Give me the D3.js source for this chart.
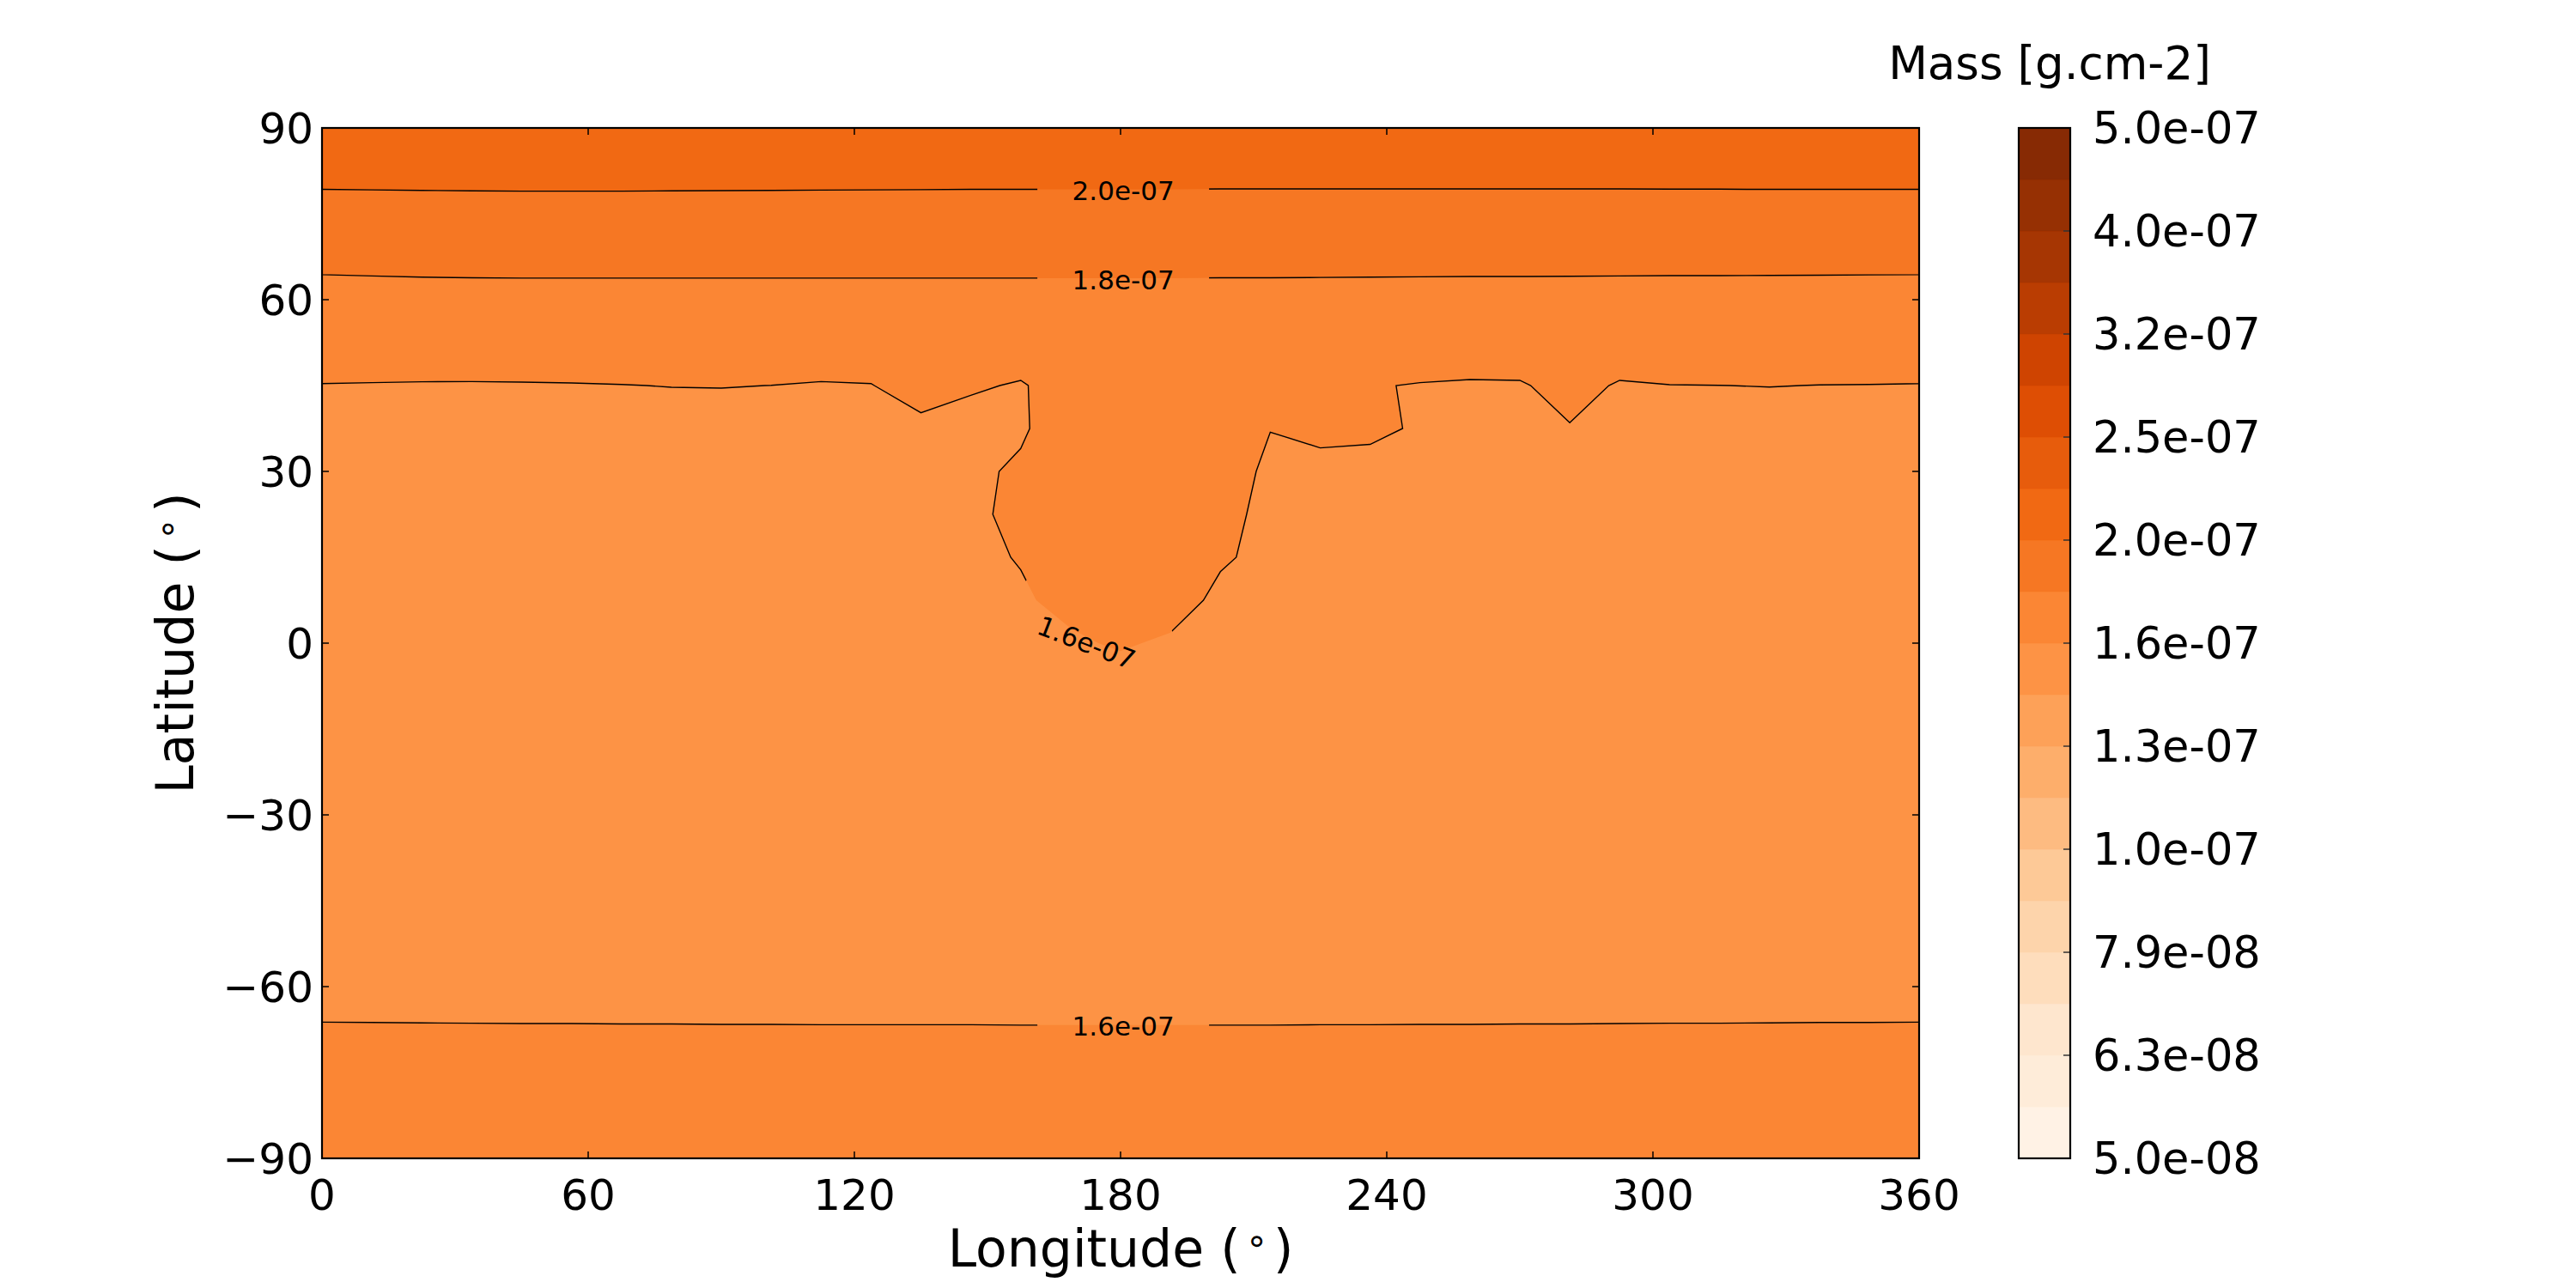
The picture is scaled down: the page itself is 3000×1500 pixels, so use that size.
<!DOCTYPE html>
<html>
<head>
<meta charset="utf-8">
<title>Mass [g.cm-2]</title>
<script src="https://cdn.jsdelivr.net/npm/d3@7"></script>
<style>
  body { margin: 0; background: #fff; }
  svg text { font-family: "DejaVu Sans", sans-serif; fill: #000; }
</style>
</head>
<body>
<div id="display"></div>
<script>
// model grid (values sit on these longitudes / latitudes)
const lons = [0, 11.25, 22.5, 33.75, 45, 56.25, 67.5, 78.75, 90, 101.25, 112.5, 123.75, 135, 146.25,
  157.5, 168.75, 180, 191.25, 202.5, 213.75, 225, 236.25, 247.5, 258.75, 270, 281.25, 292.5, 303.75,
  315, 326.25, 337.5, 348.75, 360];
const lats = [-90, -82.5, -75, -67.5, -60, -52.5, -45, -37.5, -30, -22.5, -15, -7.5, 0,
  7.5, 15, 22.5, 30, 37.5, 45, 52.5, 60, 67.5, 75, 82.5, 90];

// column mass in 1e-8 g.cm-2, one row per latitude (south -> north), one value per longitude
const mass = [
  /* -90.0 */ [16.70,16.70,16.70,16.70,16.70,16.70,16.70,16.70,16.70,16.70,16.70,16.70,16.70,16.70,16.70,16.70,16.70,16.70,16.70,16.70,16.70,16.70,16.70,16.70,16.70,16.70,16.70,16.70,16.70,16.70,16.70,16.70,16.70],
  /* -82.5 */ [16.55,16.55,16.55,16.55,16.55,16.55,16.55,16.55,16.55,16.55,16.55,16.55,16.55,16.55,16.55,16.55,16.55,16.55,16.55,16.55,16.55,16.55,16.55,16.55,16.55,16.55,16.55,16.55,16.55,16.55,16.55,16.55,16.55],
  /* -75.0 */ [16.30,16.30,16.30,16.30,16.30,16.30,16.30,16.30,16.30,16.30,16.30,16.30,16.30,16.30,16.30,16.30,16.30,16.30,16.30,16.30,16.30,16.30,16.30,16.30,16.30,16.30,16.30,16.30,16.30,16.30,16.30,16.30,16.30],
  /* -67.5 */ [15.99,15.98,15.97,15.96,15.95,15.95,15.94,15.94,15.93,15.93,15.92,15.92,15.92,15.92,15.91,15.91,15.91,15.91,15.91,15.91,15.92,15.92,15.93,15.93,15.94,15.94,15.95,15.96,15.96,15.97,15.98,15.98,15.99],
  /* -60.0 */ [14.95,14.95,14.95,14.95,14.95,14.95,14.95,14.95,14.95,14.95,14.95,14.95,14.95,14.95,14.95,14.95,14.95,14.95,14.95,14.95,14.95,14.95,14.95,14.95,14.95,14.95,14.95,14.95,14.95,14.95,14.95,14.95,14.95],
  /* -52.5 */ [15.05,15.05,15.05,15.05,15.05,15.05,15.05,15.05,15.05,15.05,15.05,15.05,15.05,15.05,15.05,15.05,15.05,15.05,15.05,15.05,15.05,15.05,15.05,15.05,15.05,15.05,15.05,15.05,15.05,15.05,15.05,15.05,15.05],
  /* -45.0 */ [15.10,15.10,15.10,15.10,15.10,15.10,15.10,15.10,15.10,15.10,15.10,15.10,15.10,15.10,15.10,15.10,15.10,15.10,15.10,15.10,15.10,15.10,15.10,15.10,15.10,15.10,15.10,15.10,15.10,15.10,15.10,15.10,15.10],
  /* -37.5 */ [15.12,15.12,15.12,15.12,15.12,15.12,15.12,15.12,15.12,15.12,15.12,15.12,15.12,15.12,15.12,15.12,15.12,15.12,15.12,15.12,15.12,15.12,15.12,15.12,15.12,15.12,15.12,15.12,15.12,15.12,15.12,15.12,15.12],
  /* -30.0 */ [15.15,15.15,15.15,15.15,15.15,15.15,15.15,15.15,15.15,15.15,15.15,15.15,15.15,15.15,15.15,15.15,15.15,15.15,15.15,15.15,15.15,15.15,15.15,15.15,15.15,15.15,15.15,15.15,15.15,15.15,15.15,15.15,15.15],
  /* -22.5 */ [15.18,15.18,15.18,15.18,15.18,15.18,15.18,15.18,15.18,15.18,15.18,15.18,15.18,15.18,15.18,15.18,15.18,15.18,15.18,15.18,15.18,15.18,15.18,15.18,15.18,15.18,15.18,15.18,15.18,15.18,15.18,15.18,15.18],
  /* -15.0 */ [15.20,15.20,15.20,15.20,15.20,15.20,15.20,15.20,15.20,15.20,15.20,15.20,15.20,15.20,15.20,15.20,15.20,15.20,15.20,15.20,15.20,15.20,15.20,15.20,15.20,15.20,15.20,15.20,15.20,15.20,15.20,15.20,15.20],
  /*  -7.5 */ [15.20,15.20,15.20,15.20,15.20,15.20,15.20,15.20,15.20,15.20,15.20,15.20,15.20,15.20,15.20,15.20,14.55,15.20,15.20,15.20,15.20,15.20,15.20,15.20,15.20,15.20,15.20,15.20,15.20,15.20,15.20,15.20,15.20],
  /*   0.0 */ [15.30,15.30,15.30,15.30,15.30,15.30,15.30,15.30,15.30,15.30,15.30,15.30,15.30,15.30,15.30,15.45,16.10,15.42,15.30,15.30,15.30,15.30,15.30,15.30,15.30,15.30,15.30,15.30,15.30,15.30,15.30,15.30,15.30],
  /*   7.5 */ [15.30,15.30,15.30,15.30,15.30,15.30,15.30,15.30,15.30,15.30,15.30,15.30,15.30,15.30,15.50,16.50,16.80,17.00,15.20,15.30,15.30,15.30,15.30,15.30,15.30,15.30,15.30,15.30,15.30,15.30,15.30,15.30,15.30],
  /*  15.0 */ [15.30,15.30,15.30,15.30,15.30,15.30,15.30,15.30,15.30,15.30,15.30,15.30,15.30,15.30,15.94,16.70,16.90,16.60,16.12,15.15,15.30,15.30,15.30,15.30,15.30,15.30,15.30,15.30,15.30,15.30,15.30,15.30,15.30],
  /*  22.5 */ [15.30,15.30,15.30,15.30,15.30,15.30,15.30,15.30,15.30,15.30,15.30,15.30,15.30,15.30,16.46,16.90,17.00,16.80,16.40,15.28,15.30,15.30,15.30,15.30,15.30,15.30,15.30,15.30,15.30,15.30,15.30,15.30,15.30],
  /*  30.0 */ [15.30,15.30,15.30,15.30,15.30,15.30,15.30,15.30,15.30,15.30,15.30,15.30,15.30,15.42,16.11,16.80,16.90,16.80,16.60,15.50,15.46,15.49,15.30,15.30,15.30,15.30,15.30,15.30,15.30,15.30,15.30,15.30,15.30],
  /*  37.5 */ [15.30,15.30,15.30,15.30,15.30,15.30,15.30,15.30,15.30,15.30,15.30,15.30,15.50,15.30,15.55,17.00,16.50,16.50,16.50,15.84,16.10,16.00,15.71,15.35,15.40,15.75,15.40,15.30,15.30,15.30,15.30,15.30,15.30],
  /*  45.0 */ [15.773,15.754,15.736,15.730,15.742,15.761,15.790,15.832,15.844,15.806,15.730,15.773,16.348,15.961,15.703,16.42,16.30,16.30,16.30,16.20,16.20,15.873,15.754,15.683,15.703,16.20,15.703,15.795,15.806,15.829,15.800,15.790,15.773],
  /*  52.5 */ [16.60,16.60,16.60,16.60,16.60,16.60,16.60,16.60,16.60,16.60,16.60,16.60,16.60,16.60,16.60,16.60,16.60,16.60,16.60,16.60,16.60,16.60,16.60,16.60,16.60,16.60,16.60,16.60,16.60,16.60,16.60,16.60,16.60],
  /*  60.0 */ [17.31,17.36,17.40,17.42,17.43,17.43,17.43,17.43,17.43,17.43,17.43,17.43,17.43,17.43,17.43,17.43,17.43,17.43,17.42,17.42,17.41,17.40,17.39,17.38,17.38,17.37,17.36,17.35,17.35,17.34,17.33,17.32,17.31],
  /*  67.5 */ [18.05,18.05,18.05,18.05,18.05,18.05,18.05,18.05,18.05,18.05,18.05,18.05,18.05,18.05,18.05,18.05,18.05,18.05,18.05,18.05,18.05,18.05,18.05,18.05,18.05,18.05,18.05,18.05,18.05,18.05,18.05,18.05,18.05],
  /*  75.0 */ [19.45,19.47,19.49,19.51,19.52,19.52,19.52,19.51,19.50,19.49,19.48,19.47,19.46,19.45,19.45,19.45,19.45,19.45,19.43,19.43,19.43,19.43,19.43,19.43,19.43,19.43,19.43,19.44,19.44,19.45,19.45,19.45,19.45],
  /*  82.5 */ [20.25,20.25,20.25,20.25,20.25,20.25,20.25,20.25,20.25,20.25,20.25,20.25,20.25,20.25,20.25,20.25,20.25,20.25,20.25,20.25,20.25,20.25,20.25,20.25,20.25,20.25,20.25,20.25,20.25,20.25,20.25,20.25,20.25],
  /*  90.0 */ [20.60,20.60,20.60,20.60,20.60,20.60,20.60,20.60,20.60,20.60,20.60,20.60,20.60,20.60,20.60,20.60,20.60,20.60,20.60,20.60,20.60,20.60,20.60,20.60,20.60,20.60,20.60,20.60,20.60,20.60,20.60,20.60,20.60]
];

// contourf levels, 1e-8 g.cm-2 (20 log-spaced bands from 5e-8 to 5e-7)
const levels = [5.000, 5.610, 6.295, 7.063, 7.924, 8.891, 9.976, 11.194, 12.559, 14.092, 15.811,
  17.741, 19.905, 22.334, 25.059, 28.117, 31.548, 35.397, 39.716, 44.563, 50.000];
// levels that also get a black line
const lineLevels = [15.811, 17.741, 19.905];
const contourLabels = [
  {level: 19.905, text: '2.0e-07', lon: 180.6, lat: 79.25, angle: 0},
  {level: 17.741, text: '1.8e-07', lon: 180.6, lat: 63.75, angle: 0},
  {level: 15.811, text: '1.6e-07', lon: 172.4, lat: 0.3, angle: 21},
  {level: 15.811, text: '1.6e-07', lon: 180.6, lat: -66.7, angle: 0}
];

const xTicks = [0, 60, 120, 180, 240, 300, 360];
const yTicks = [90, 60, 30, 0, -30, -60, -90];
const cbarTicks = [5.000, 6.295, 7.924, 9.976, 12.559, 15.811, 19.905, 25.059, 31.548, 39.716, 50.000];
const cbarTickLabels = ['5.0e-08', '6.3e-08', '7.9e-08', '1.0e-07', '1.3e-07', '1.6e-07',
  '2.0e-07', '2.5e-07', '3.2e-07', '4.0e-07', '5.0e-07'];

// matplotlib "Oranges"
const oranges = ['#fff5eb', '#fee6ce', '#fdd0a2', '#fdae6b', '#fd8d3c', '#f16913', '#d94801', '#a63603', '#7f2704'];

// layout
const width = 3000, height = 1500;
const margin = {top: 149, right: 765, bottom: 151, left: 375};
const plotW = width - margin.left - margin.right;
const plotH = height - margin.top - margin.bottom;
const cbarX = 2351, cbarW = 60;

const cmap = d3.piecewise(d3.interpolateRgb, oranges);
const logSpan = Math.log10(levels[levels.length - 1] / levels[0]);
const bandColor = k => cmap(Math.log10((levels[k] + levels[k + 1]) / 2 / levels[0]) / logSpan);

const xScale = d3.scaleLinear().domain([0, 360]).range([0, plotW]);
const yScale = d3.scaleLinear().domain([-90, 90]).range([plotH, 0]);

const svg = d3.select('#display')
  .append('svg')
    .attr('width', width)
    .attr('height', height);

const defs = svg.append('defs');
defs.append('clipPath').attr('id', 'plot-clip')
  .append('rect').attr('width', plotW).attr('height', plotH);

const g = svg.append('g')
  .attr('transform', 'translate(' + margin.left + ',' + margin.top + ')');

// grid index space -> pixels (d3.contours puts value i at i + 0.5)
const nx = lons.length, ny = lats.length;
const dLon = lons[1] - lons[0], dLat = lats[1] - lats[0];
const toPixels = d3.geoTransform({
  point: function(gx, gy) {
    this.stream.point(xScale(lons[0] + (gx - 0.5) * dLon), yScale(lats[0] + (gy - 0.5) * dLat));
  }
});
const path = d3.geoPath(toPixels);
const values = mass.flat();

// filled bands
const bands = d3.contours().size([nx, ny]).thresholds(levels.slice(0, -1))(values);
const field = g.append('g').attr('clip-path', 'url(#plot-clip)');
field.selectAll('path.band')
  .data(bands)
  .join('path')
    .attr('class', 'band')
    .attr('d', path)
    .attr('fill', (d, i) => bandColor(i));

// contour lines, with a gap around each label
const lines = d3.contours().size([nx, ny]).thresholds(lineLevels)(values);
lines.forEach((c, i) => {
  const mask = defs.append('mask').attr('id', 'gap' + i)
    .attr('maskUnits', 'userSpaceOnUse')
    .attr('x', -50).attr('y', -50).attr('width', plotW + 100).attr('height', plotH + 100);
  mask.append('rect')
    .attr('x', -50).attr('y', -50).attr('width', plotW + 100).attr('height', plotH + 100)
    .attr('fill', '#fff');
  contourLabels.filter(l => l.level === lineLevels[i]).forEach(l => {
    mask.append('circle')
      .attr('cx', xScale(l.lon)).attr('cy', yScale(l.lat)).attr('r', 100)
      .attr('fill', '#000');
  });
  field.append('g').attr('mask', 'url(#gap' + i + ')')
    .append('path')
      .attr('d', path(c))
      .attr('fill', 'none')
      .attr('stroke', '#000')
      .attr('stroke-width', 1.4);
});

field.selectAll('text.clabel')
  .data(contourLabels)
  .join('text')
    .attr('class', 'clabel')
    .attr('transform', d => 'translate(' + xScale(d.lon) + ',' + yScale(d.lat) + ') rotate(' + d.angle + ')')
    .attr('y', 12.5)
    .attr('text-anchor', 'middle')
    .style('font-size', '31px')
    .text(d => d.text);

// ticks (inside, all four sides)
const tickLen = 8;
const ticks = g.append('g').attr('stroke', '#000').attr('stroke-width', 1.5);
xTicks.forEach(t => {
  ticks.append('line').attr('x1', xScale(t)).attr('x2', xScale(t)).attr('y1', plotH).attr('y2', plotH - tickLen);
  ticks.append('line').attr('x1', xScale(t)).attr('x2', xScale(t)).attr('y1', 0).attr('y2', tickLen);
});
yTicks.forEach(t => {
  ticks.append('line').attr('x1', 0).attr('x2', tickLen).attr('y1', yScale(t)).attr('y2', yScale(t));
  ticks.append('line').attr('x1', plotW).attr('x2', plotW - tickLen).attr('y1', yScale(t)).attr('y2', yScale(t));
});

g.append('rect')
  .attr('width', plotW).attr('height', plotH)
  .attr('fill', 'none').attr('stroke', '#000').attr('stroke-width', 2.2);

g.selectAll('text.xtick')
  .data(xTicks)
  .join('text')
    .attr('class', 'xtick')
    .attr('x', d => xScale(d))
    .attr('y', plotH + 60)
    .attr('text-anchor', 'middle')
    .style('font-size', '50px')
    .text(d => d);

g.selectAll('text.ytick')
  .data(yTicks)
  .join('text')
    .attr('class', 'ytick')
    .attr('x', -10)
    .attr('y', d => yScale(d) + 18)
    .attr('text-anchor', 'end')
    .style('font-size', '50px')
    .text(d => (d < 0 ? '\u2212' + Math.abs(d) : d));

// axis titles
const xTitle = g.append('text')
  .attr('x', plotW / 2).attr('y', plotH + 126)
  .attr('text-anchor', 'middle')
  .style('font-size', '60px');
xTitle.append('tspan').text('Longitude (');
xTitle.append('tspan').attr('dx', 6).attr('dy', -16).style('font-size', '42px').text('\u2218');
xTitle.append('tspan').attr('dx', 6).attr('dy', 16).text(')');

const yTitle = g.append('text')
  .attr('transform', 'translate(' + (225 - margin.left) + ',' + plotH / 2 + ') rotate(-90)')
  .attr('text-anchor', 'middle')
  .style('font-size', '60px');
yTitle.append('tspan').text('Latitude (');
yTitle.append('tspan').attr('dx', 6).attr('dy', -16).style('font-size', '42px').text('\u2218');
yTitle.append('tspan').attr('dx', 6).attr('dy', 16).text(')');

// colorbar
const cScale = d3.scaleLog().domain([levels[0], levels[levels.length - 1]]).range([margin.top + plotH, margin.top]);
const cbar = svg.append('g');
cbar.selectAll('rect.cband')
  .data(levels.slice(0, -1))
  .join('rect')
    .attr('class', 'cband')
    .attr('x', cbarX)
    .attr('width', cbarW)
    .attr('y', (d, i) => cScale(levels[i + 1]))
    .attr('height', (d, i) => cScale(levels[i]) - cScale(levels[i + 1]))
    .attr('fill', (d, i) => bandColor(i))
    .attr('stroke', (d, i) => bandColor(i))
    .attr('stroke-width', 0.5);
cbar.selectAll('line.ctick')
  .data(cbarTicks)
  .join('line')
    .attr('class', 'ctick')
    .attr('x1', cbarX + cbarW - tickLen).attr('x2', cbarX + cbarW)
    .attr('y1', d => cScale(d)).attr('y2', d => cScale(d))
    .attr('stroke', '#333').attr('stroke-width', 1.5);
cbar.append('rect')
  .attr('x', cbarX).attr('y', margin.top)
  .attr('width', cbarW).attr('height', plotH)
  .attr('fill', 'none').attr('stroke', '#000').attr('stroke-width', 2.2);
cbar.selectAll('text.clab')
  .data(cbarTicks)
  .join('text')
    .attr('class', 'clab')
    .attr('x', cbarX + cbarW + 26)
    .attr('y', d => cScale(d) + 18)
    .style('font-size', '51px')
    .text((d, i) => cbarTickLabels[i]);
cbar.append('text')
  .attr('x', 2387).attr('y', 92)
  .attr('text-anchor', 'middle')
  .style('font-size', '53px')
  .text('Mass [g.cm-2]');
</script>
</body>
</html>
